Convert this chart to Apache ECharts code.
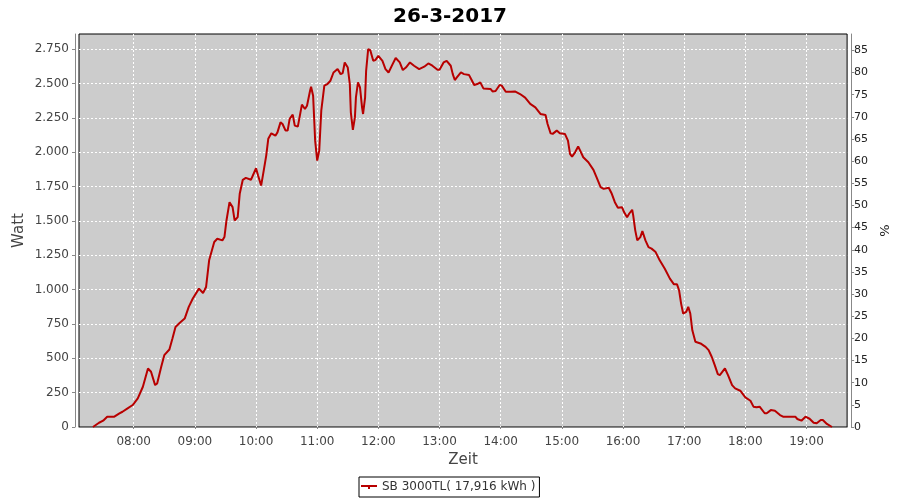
<!DOCTYPE html>
<html><head><meta charset="utf-8">
<script src="https://cdn.jsdelivr.net/npm/echarts@6/dist/echarts.min.js"></script>
<style>html,body{margin:0;padding:0;background:#fff}#c{width:900px;height:500px}</style>
</head><body><div id="c"></div>
<script>
var chartTitle = '26-3-2017';
var seriesName = 'SB 3000TL( 17,916 kWh )';
var times = ['07:20','07:26','07:30','07:34','07:41','07:46','07:49','07:54','07:59','08:04','08:09','08:14','08:17','08:21','08:23','08:27','08:30','08:35','08:38','08:41','08:45','08:50','08:54','08:58','09:04','09:08','09:11','09:14','09:19','09:22','09:27','09:29','09:31','09:34','09:37','09:39','09:42','09:44','09:47','09:50','09:55','10:00','10:02','10:05','10:07','10:10','10:12','10:15','10:19','10:21','10:24','10:26','10:29','10:31','10:33','10:36','10:38','10:41','10:43','10:45','10:48','10:50','10:53','10:54','10:56','10:58','11:00','11:02','11:04','11:07','11:10','11:13','11:16','11:20','11:23','11:25','11:27','11:30','11:32','11:33','11:35','11:37','11:38','11:40','11:42','11:44','11:45','11:47','11:48','11:50','11:52','11:55','11:57','12:00','12:04','12:07','12:10','12:14','12:17','12:21','12:24','12:27','12:31','12:35','12:40','12:45','12:49','12:53','12:58','13:00','13:04','13:07','13:11','13:13','13:15','13:17','13:21','13:24','13:29','13:31','13:34','13:37','13:40','13:43','13:50','13:52','13:55','13:59','14:01','14:05','14:10','14:14','14:19','14:24','14:29','14:34','14:39','14:44','14:46','14:49','14:51','14:55','14:58','15:03','15:06','15:08','15:10','15:13','15:16','15:18','15:21','15:26','15:31','15:34','15:38','15:41','15:46','15:49','15:52','15:55','15:59','16:01','16:04','16:06','16:09','16:10','16:12','16:14','16:17','16:19','16:22','16:25','16:28','16:32','16:36','16:41','16:46','16:50','16:53','16:55','16:57','16:59','17:02','17:04','17:06','17:08','17:11','17:16','17:21','17:24','17:27','17:30','17:33','17:35','17:40','17:43','17:47','17:50','17:55','18:00','18:05','18:08','18:11','18:14','18:19','18:21','18:25','18:29','18:34','18:37','18:49','18:51','18:55','18:59','19:03','19:07','19:10','19:14','19:16','19:20','19:25'];
var watt = [0,31,46,75,75,99,111,136,160,208,293,426,402,305,317,438,523,564,644,728,757,789,874,935,1007,975,1019,1213,1346,1370,1358,1382,1503,1636,1600,1503,1527,1697,1799,1813,1799,1883,1830,1757,1842,1975,2097,2137,2120,2144,2217,2205,2157,2157,2242,2273,2193,2186,2266,2346,2314,2338,2447,2476,2411,2084,1939,2011,2302,2484,2496,2520,2580,2605,2568,2575,2653,2616,2496,2290,2162,2253,2399,2508,2471,2326,2278,2399,2592,2750,2743,2665,2670,2701,2665,2605,2580,2641,2685,2653,2598,2616,2653,2629,2605,2622,2646,2629,2600,2600,2653,2665,2629,2568,2525,2544,2580,2568,2561,2532,2489,2496,2508,2464,2460,2442,2445,2489,2484,2440,2440,2442,2423,2397,2351,2326,2278,2271,2205,2137,2133,2157,2137,2133,2084,1988,1968,1999,2041,2011,1963,1927,1871,1818,1745,1733,1741,1697,1636,1595,1600,1564,1527,1552,1581,1540,1431,1358,1382,1426,1358,1309,1298,1273,1213,1152,1080,1038,1038,995,898,826,838,874,826,704,620,608,583,559,511,450,385,378,426,378,305,281,264,216,191,148,143,148,100,100,123,118,87,75,75,58,46,75,60,31,27,51,51,22,0];
var xMinTime = '07:06:20';
var xMaxTime = '19:39:50';
var wattMax = 2860;
var wattStep = 250;
var pctMax = 88.7;
var pctStep = 5;

function ts(s){var p=s.split(':');return new Date(2017,2,26,+p[0],+p[1],+(p[2]||0)).getTime();}
function dots(v){return String(v).replace(/\B(?=(\d{3})+(?!\d))/g,'.');}
var data = times.map(function(t,i){return [ts(t), watt[i]];});
var font = 'DejaVu Sans';
var chart = echarts.init(document.getElementById('c'), null, {renderer:'canvas'});
chart.setOption({
  animation:false,
  backgroundColor:'#fff',
  title:{text:chartTitle,left:'center',top:2,textStyle:{fontFamily:font,fontSize:20,fontWeight:'bold',color:'#000'}},
  grid:{left:79,right:52,top:34,bottom:73,show:true,backgroundColor:'#cccccc',borderColor:'#000',borderWidth:1,containLabel:false},
  legend:{left:359,top:477,padding:[4,4,4,2],borderColor:'#000',borderWidth:1,itemWidth:16,itemHeight:4,
    data:[{name:seriesName,icon:'path://M0,0H16V2H0Z M7,2H9V4H7Z'}],
    textStyle:{fontFamily:font,fontSize:12,color:'#333'}},
  xAxis:{type:'time',min:ts(xMinTime),max:ts(xMaxTime),minInterval:3600000,maxInterval:3600000,
    offset:4,name:'Zeit',nameLocation:'middle',nameGap:21,
    nameTextStyle:{fontFamily:font,fontSize:15,color:'#444'},
    axisLine:{lineStyle:{color:'#888'}},axisTick:{show:true,length:2,lineStyle:{color:'#888'}},
    axisLabel:{formatter:'{HH}:{mm}',fontFamily:font,fontSize:12,color:'#444',margin:5,hideOverlap:false,showMinLabel:false,showMaxLabel:false},
    splitLine:{show:true,showMinLine:false,showMaxLine:false,lineStyle:{color:'#fff',type:[2,2],width:1}}},
  yAxis:[{type:'value',min:0,max:wattMax,interval:wattStep,offset:4,position:'left',
    name:'Watt',nameLocation:'middle',nameGap:48,nameMoveOverlap:false,nameTextStyle:{fontFamily:font,fontSize:15,color:'#444'},
    axisLine:{show:true,lineStyle:{color:'#888'}},axisTick:{show:true,length:3,lineStyle:{color:'#888'}},
    axisLabel:{formatter:function(v){return dots(v);},fontFamily:font,fontSize:12,color:'#444',margin:6,showMaxLabel:false},
    splitLine:{show:true,showMinLine:false,showMaxLine:false,lineStyle:{color:'#fff',type:[2,2],width:1}}},
   {type:'value',min:0,max:pctMax,interval:pctStep,offset:4,position:'right',
    name:'%',nameLocation:'middle',nameGap:26,nameTextStyle:{fontFamily:font,fontSize:13,color:'#222'},
    axisLine:{show:true,lineStyle:{color:'#888'}},axisTick:{show:true,length:3,lineStyle:{color:'#888'}},
    axisLabel:{fontFamily:font,fontSize:11,color:'#222',margin:3,showMaxLabel:false},
    splitLine:{show:false}}],
  series:[{name:seriesName,type:'line',yAxisIndex:0,data:data,showSymbol:false,symbol:'none',
    lineStyle:{color:'#b80000',width:2},itemStyle:{color:'#b80000'}}]
});
</script></body></html>
